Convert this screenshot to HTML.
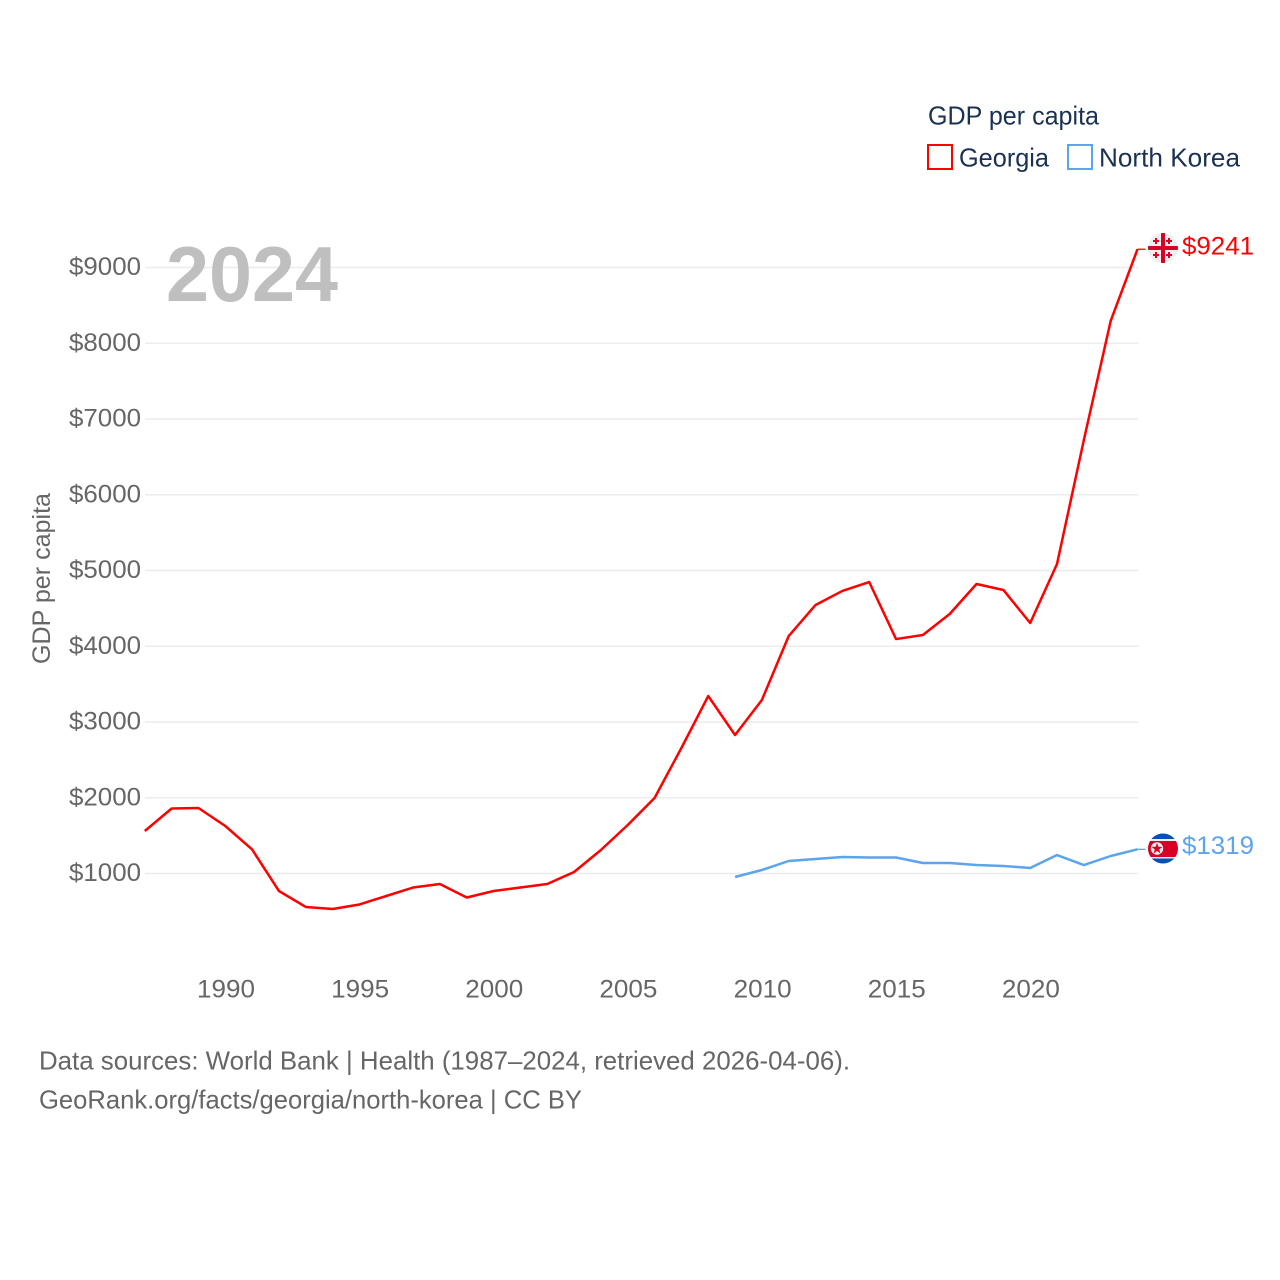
<!DOCTYPE html>
<html lang="en">
<head>
<meta charset="utf-8">
<title>GDP per capita: Georgia and North Korea</title>
<style>
html,body{margin:0;padding:0;background:#fff;}
svg{display:block;font-family:"Liberation Sans",sans-serif;}
</style>
</head>
<body>
<svg id="chart" width="1280" height="1280" viewBox="0 0 1280 1280" xmlns="http://www.w3.org/2000/svg">
  <defs>
    <clipPath id="flag-clip-ge"><circle cx="1163" cy="248" r="15"/></clipPath>
    <clipPath id="flag-clip-kp"><circle cx="1163" cy="848.5" r="15"/></clipPath>
  </defs>
  <rect width="1280" height="1280" fill="#fff"/>
  <g id="grid"></g>
  <text x="166" y="301" font-size="78" font-weight="700" fill="#bfbfbf" textLength="172" lengthAdjust="spacingAndGlyphs">2024</text>
  <g id="yticks"></g>
  <g id="xticks"></g>
  <text transform="translate(50,664) rotate(-90)" font-size="25" fill="#666" textLength="171" lengthAdjust="spacingAndGlyphs">GDP per capita</text>
  <g id="series"></g>

  <g clip-path="url(#flag-clip-ge)">
    <circle cx="1163" cy="248" r="15" fill="#eeeeee"/>
    <rect x="1148" y="246" width="30" height="4" fill="#d80027"/>
    <rect x="1161" y="233" width="4" height="30" fill="#d80027"/>
    <path d="M1155 238h2v2h2v2h-2v2h-2v-2h-2v-2h2zM1168 238h2v2h2v2h-2v2h-2v-2h-2v-2h2zM1155 252h2v2h2v2h-2v2h-2v-2h-2v-2h2zM1168 252h2v2h2v2h-2v2h-2v-2h-2v-2h2z" fill="#d80027"/>
  </g>
  <g clip-path="url(#flag-clip-kp)">
    <circle cx="1163" cy="848.5" r="15" fill="#eeeeee"/>
    <rect x="1148" y="833" width="30" height="6" fill="#0052b4"/>
    <rect x="1148" y="858.500" width="30" height="6" fill="#0052b4"/>
    <rect x="1148" y="841" width="30" height="16" fill="#d80027"/>
    <circle cx="1157" cy="848.500" r="6.200" fill="#eeeeee"/>
    <path d="M1157 842.900l1.400 3.900 4.100.1-3.300 2.500 1.200 4-3.400-2.400-3.400 2.400 1.200-4-3.300-2.500 4.100-.1z" fill="#d80027"/>
  </g>
  <g id="end-labels"></g>

  <g>
    <text x="928" y="124.300" font-size="26" fill="#1b3152" textLength="171" lengthAdjust="spacingAndGlyphs">GDP per capita</text>
    <g>
      <rect x="928" y="145" width="24" height="24" fill="#fff" stroke="#ff0000" stroke-width="2"/>
      <text x="959" y="166.300" font-size="26" fill="#1b3152" textLength="90" lengthAdjust="spacingAndGlyphs">Georgia</text>
    </g>
    <g>
      <rect x="1068" y="145" width="24" height="24" fill="#fff" stroke="#5ba4ee" stroke-width="2"/>
      <text x="1099" y="166.300" font-size="26" fill="#1b3152" textLength="141" lengthAdjust="spacingAndGlyphs">North Korea</text>
    </g>
  </g>

  <text x="39" y="1069.300" font-size="26" fill="#666" textLength="811" lengthAdjust="spacingAndGlyphs">Data sources: World Bank | Health (1987–2024, retrieved 2026-04-06).</text>
  <text x="39" y="1108.300" font-size="26" fill="#666" textLength="543" lengthAdjust="spacingAndGlyphs">GeoRank.org/facts/georgia/north-korea | CC BY</text>
</svg>
<script>
var years = [1987,1988,1989,1990,1991,1992,1993,1994,1995,1996,1997,1998,1999,2000,2001,2002,2003,2004,2005,2006,2007,2008,2009,2010,2011,2012,2013,2014,2015,2016,2017,2018,2019,2020,2021,2022,2023,2024];
var georgiaValues = [1561,1858,1865,1627,1317,769,558,531,591,703,815,861,683,769,815,861,1020,1310,1640,1997,2657,3343,2828,3290,4135,4545,4730,4848,4095,4148,4426,4822,4743,4307,5086,6723,8294,9241];
var northKoreaYears = [2009,2010,2011,2012,2013,2014,2015,2016,2017,2018,2019,2020,2021,2022,2023,2024];
var northKoreaValues = [954,1046,1165,1191,1218,1211,1211,1139,1139,1112,1099,1073,1244,1112,1231,1319];
var yTickValues = [1000,2000,3000,4000,5000,6000,7000,8000,9000];
var xTickValues = [1990,1995,2000,2005,2010,2015,2020];

var NS = 'http://www.w3.org/2000/svg';
function xScale(year) { return 144.8 + (year - 1987) * 26.83; }
function yScale(value) { return 949.25 - value * 0.07575; }
function make(tag, attrs, parent, content) {
  var el = document.createElementNS(NS, tag);
  for (var k in attrs) { el.setAttribute(k, attrs[k]); }
  if (content !== undefined) { el.textContent = content; }
  parent.appendChild(el);
  return el;
}
var grid = document.getElementById('grid');
var yticks = document.getElementById('yticks');
var xticks = document.getElementById('xticks');
var seriesGroup = document.getElementById('series');
var endLabels = document.getElementById('end-labels');

yTickValues.forEach(function (v) {
  var y = yScale(v);
  var line = make('line', {x1: 145, x2: 1138, y1: y, y2: y, stroke: '#ececec', 'stroke-width': 1.5}, grid);
  
  
  var label = make('text', {x: 141, y: y + 7.7, 'text-anchor': 'end', 'font-size': 25, fill: '#666', textLength: 72, lengthAdjust: 'spacingAndGlyphs'}, yticks, '$' + v);
  
  
});

xTickValues.forEach(function (yr) {
  var label = make('text', {x: xScale(yr) + 0.7, y: 997.7, 'text-anchor': 'middle', 'font-size': 25, fill: '#666', textLength: 58, lengthAdjust: 'spacingAndGlyphs'}, xticks, String(yr));
  
  
});

function pathFor(xs, vs) {
  return xs.map(function (yr, i) {
    return (i ? 'L' : 'M') + xScale(yr).toFixed(2) + ' ' + yScale(vs[i]).toFixed(2);
  }).join(' ');
}
function leaderFor(xs, vs) {
  var last = xs.length - 1;
  return 'M' + xScale(xs[last]).toFixed(2) + ' ' + yScale(vs[last]).toFixed(2) + ' h8';
}

var georgiaLine = make('path', {d: pathFor(years, georgiaValues), fill: 'none', stroke: '#ff0000', 'stroke-width': 2.5, 'stroke-linejoin': 'round'}, seriesGroup);



var georgiaLeader = make('path', {d: leaderFor(years, georgiaValues), fill: 'none', stroke: '#ff0000', 'stroke-width': 1.3}, seriesGroup);



var koreaLine = make('path', {d: pathFor(northKoreaYears, northKoreaValues), fill: 'none', stroke: '#5ba4ee', 'stroke-width': 2.5, 'stroke-linejoin': 'round'}, seriesGroup);



var koreaLeader = make('path', {d: leaderFor(northKoreaYears, northKoreaValues), fill: 'none', stroke: '#5ba4ee', 'stroke-width': 1.3}, seriesGroup);



var georgiaEnd = make('text', {x: 1182, y: yScale(georgiaValues[georgiaValues.length - 1]) + 5.5, 'font-size': 25, fill: '#ff0000', textLength: 72, lengthAdjust: 'spacingAndGlyphs'}, endLabels, '$' + georgiaValues[georgiaValues.length - 1]);



var koreaEnd = make('text', {x: 1182, y: yScale(northKoreaValues[northKoreaValues.length - 1]) + 4.7, 'font-size': 25, fill: '#5ba4ee', textLength: 72, lengthAdjust: 'spacingAndGlyphs'}, endLabels, '$' + northKoreaValues[northKoreaValues.length - 1]);


</script>
</body>
</html>
